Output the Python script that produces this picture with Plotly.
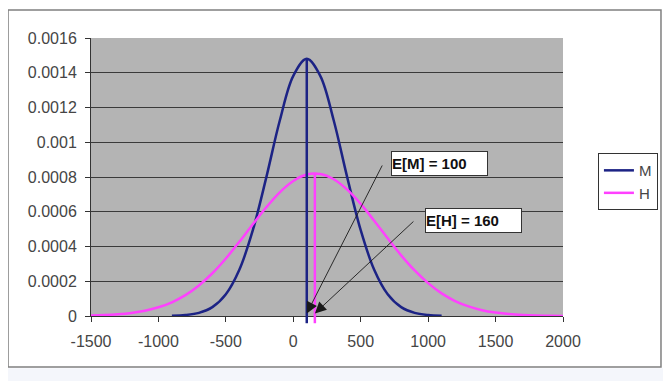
import plotly.graph_objects as go

# ---- data ----
x_m = [-900, -800, -700, -600, -500, -400, -300, -200, -100, 0, 100,
       200, 300, 400, 500, 600, 700, 800, 900, 1000, 1100]
m_vals = [0.0000016, 0.0000057, 0.000018, 0.000051, 0.000125, 0.000266, 0.000494,
          0.000798, 0.001125, 0.001382, 0.00148, 0.001382, 0.001125, 0.000798,
          0.000494, 0.000266, 0.000125, 0.000051, 0.000018, 0.0000057, 0.0000016]

x_h = [-1500, -1400, -1300, -1200, -1100, -1000, -900, -800, -700, -600, -500,
       -400, -300, -200, -100, 0, 100, 200, 300, 400, 500, 600, 700, 800, 900,
       1000, 1100, 1200, 1300, 1400, 1500, 1600, 1700, 1800, 1900, 2000]
h_vals = [0.0000026, 0.0000052, 0.0000097, 0.0000174, 0.000030, 0.000050, 0.000079,
          0.000120, 0.000176, 0.000246, 0.000331, 0.000427, 0.000528, 0.000626,
          0.000712, 0.000777, 0.000814, 0.000817, 0.000787, 0.000727, 0.000645,
          0.000548, 0.000447, 0.000349, 0.000262, 0.000189, 0.000130, 0.000086,
          0.000055, 0.000033, 0.0000195, 0.0000109, 0.0000059, 0.0000030,
          0.0000015, 0.0000007]

series_names = ["M", "H"]
means = [100, 160]
peaks = [0.00148, 0.000818]
labels = ["E[M] = 100", "E[H] = 160"]

x_ticks = [-1500, -1000, -500, 0, 500, 1000, 1500, 2000]
x_tick_text = ["-1500", "-1000", "-500", "0", "500", "1000", "1500", "2000"]
y_ticks = [0, 0.0002, 0.0004, 0.0006, 0.0008, 0.001, 0.0012, 0.0014, 0.0016]
y_tick_text = ["0", "0.0002", "0.0004", "0.0006", "0.0008", "0.001", "0.0012", "0.0014", "0.0016"]

colors = ["#1c2385", "#ff40ff"]
FONT = "Arial, Liberation Sans, sans-serif"
TXT = "#454545"

fig = go.Figure()
fig.add_trace(go.Scatter(x=x_m, y=m_vals, name=series_names[0], mode="lines",
                         line=dict(color=colors[0], width=2.5, shape="spline")))
fig.add_trace(go.Scatter(x=x_h, y=h_vals, name=series_names[1], mode="lines",
                         line=dict(color=colors[1], width=2.5, shape="spline")))

# vertical expectation lines
for mu, pk, c in zip(means, peaks, colors):
    fig.add_trace(go.Scatter(x=[mu, mu], y=[0, pk], mode="lines", showlegend=False,
                             hoverinfo="skip", line=dict(color=c, width=2.5)))
    fig.add_shape(type="line", xref="x", yref="paper", x0=mu, x1=mu, y0=-0.026, y1=0,
                  line=dict(color=c, width=2.5))

# callout text boxes and arrows
box_pos = [(1084, 0.000875), (1336, 0.000552)]
tail_pos = [(665, 0.000875), (902, 0.000552)]
for lab, (bx, by), (tx, ty), mu in zip(labels, box_pos, tail_pos, means):
    fig.add_annotation(x=bx, y=by, text="<b>" + lab + "</b>", showarrow=False,
                       font=dict(family=FONT, size=15, color="#111"),
                       bgcolor="white", bordercolor="#333", borderwidth=1,
                       width=95, height=23, align="left", borderpad=0)
    fig.add_annotation(x=mu, y=0.000015, ax=tx, ay=ty, axref="x", ayref="y",
                       text="", showarrow=True, arrowhead=2, arrowsize=2.5,
                       arrowwidth=0.9, arrowcolor="#1a1a1a")

# outer chart border and background strip
fig.add_shape(type="rect", xref="paper", yref="paper", x0=-0.2, x1=1.23,
              y0=-0.234, y1=-0.188, fillcolor="#f4f6fb", line=dict(width=0), layer="below")
fig.add_shape(type="rect", xref="paper", yref="paper", x0=-0.1758, x1=1.2076,
              y0=-0.1835, y1=1.1007, fillcolor="rgba(0,0,0,0)",
              line=dict(color="#808080", width=1.5), layer="above")

fig.update_layout(
    width=663, height=373,
    margin=dict(l=83, r=108, t=30, b=65),
    paper_bgcolor="white", plot_bgcolor="#b4b4b4",
    font=dict(family=FONT, size=16, color=TXT),
    legend=dict(x=1.074, y=0.586, xanchor="left", yanchor="top",
                bgcolor="white", bordercolor="#333", borderwidth=1,
                font=dict(family=FONT, size=15, color=TXT),
                itemwidth=30, tracegroupgap=0),
    showlegend=True,
)
fig.update_xaxes(range=[-1500, 2000], tickvals=x_ticks, ticktext=x_tick_text,
                 ticks="outside", ticklen=5, ticklabelstandoff=6,
                 tickcolor="#333", showgrid=False, zeroline=False, showline=True,
                 linecolor="#333", linewidth=1, tickfont=dict(size=16, color=TXT))
fig.update_yaxes(range=[0, 0.0016], tickvals=y_ticks, ticktext=y_tick_text,
                 ticks="outside", ticklen=5, ticklabelstandoff=5, tickcolor="#333",
                 showgrid=True, gridcolor="#3a3a3a", gridwidth=1, zeroline=False,
                 showline=True, linecolor="#333", linewidth=1,
                 tickfont=dict(size=16, color=TXT))

fig.write_html("out.html")
